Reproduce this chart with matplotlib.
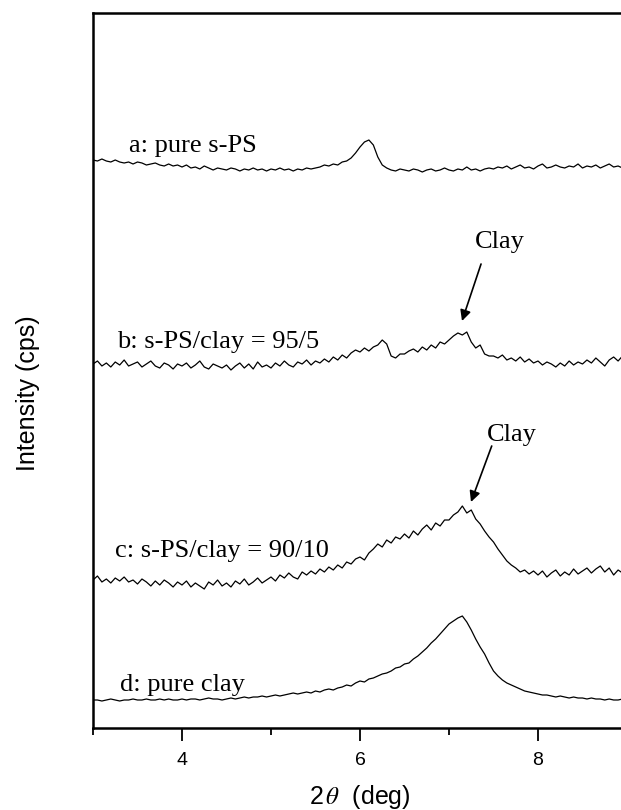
import numpy as np
import matplotlib
matplotlib.use("Agg")
import matplotlib.pyplot as plt
from matplotlib.ticker import MultipleLocator

plt.rcParams['font.family'] = ['Liberation Sans', 'DejaVu Sans']
plt.rcParams['mathtext.fontset'] = 'stix'

# 2-theta grid (deg), step 0.05
two_theta = np.round(np.arange(3.0, 9.0001, 0.05), 2)

# stacked intensities (cps, offset for display)
pure_sps = [
    568, 567, 569, 567, 566, 568, 566, 565, 566, 564,
    566, 565, 563, 564, 565, 563, 562, 564, 562, 563,
    561, 563, 560, 561, 559, 562, 560, 558, 560, 559,
    558, 560, 559, 557, 559, 558, 560, 558, 559, 557,
    559, 558, 560, 558, 559, 557, 559, 558, 560, 559,
    560, 561, 563, 562, 564, 563, 566, 567, 570, 575,
    581, 586, 588, 583, 571, 563, 560, 558, 557, 559,
    558, 557, 559, 558, 556, 558, 559, 557, 558, 560,
    558, 557, 559, 558, 561, 558, 559, 557, 559, 560,
    559, 561, 560, 562, 559, 561, 563, 560, 561, 559,
    562, 564, 560, 561, 563, 561, 560, 562, 561, 564,
    560, 562, 561, 563, 560, 562, 564, 561, 562, 560,
    561]

sps_clay_95_5 = [
    364, 367, 362, 365, 361, 366, 363, 368, 362, 364,
    366, 361, 364, 367, 362, 360, 365, 363, 359, 364,
    362, 365, 360, 363, 367, 361, 359, 364, 362, 360,
    363, 358, 362, 365, 360, 364, 359, 366, 361, 363,
    360, 365, 362, 367, 363, 361, 366, 364, 368, 363,
    367, 365, 369, 366, 371, 368, 373, 370, 375, 378,
    376, 380, 377, 381, 383, 388, 384, 372, 370, 374,
    374, 377, 379, 376, 381, 378, 383, 380, 386, 384,
    388, 392, 395, 393, 396, 386, 380, 383, 374, 372,
    372, 370, 373, 368, 370, 367, 371, 366, 369, 365,
    367, 363, 366, 364, 361, 365, 362, 367, 363, 366,
    364, 368, 365, 370, 366, 362, 368, 371, 367, 372,
    369]

sps_clay_90_10 = [
    148, 152, 146, 149, 145, 150, 147, 151, 146, 148,
    144, 149, 146, 142, 147, 143, 148, 145, 141, 146,
    143, 147, 141, 145, 142, 139, 146, 143, 148, 142,
    145, 141, 147, 144, 149, 143, 146, 150, 145, 148,
    151, 147, 153, 150, 155, 151, 149, 156, 153, 157,
    154, 159, 156, 161, 158, 163, 160, 166, 164, 169,
    171, 168, 175, 179, 184, 181, 188, 185, 191, 189,
    194, 190, 197, 193, 199, 203, 198, 205, 202, 208,
    208, 213, 216, 222, 215, 218, 209, 204, 197, 191,
    186, 179, 173, 167, 163, 160, 156, 158, 154, 157,
    153, 157, 151, 155, 158, 152, 156, 153, 159, 154,
    157, 160, 155, 159, 162, 156, 160, 153, 158, 155,
    159]

pure_clay = [
    28, 28, 27, 28, 29, 28, 27, 28, 28, 29,
    28, 28, 29, 28, 28, 29, 28, 29, 28, 28,
    29, 28, 29, 29, 28, 29, 30, 29, 29, 28,
    29, 30, 29, 30, 31, 30, 31, 31, 32, 31,
    32, 33, 32, 33, 34, 35, 34, 35, 36, 35,
    37, 36, 38, 39, 38, 40, 41, 43, 42, 45,
    47, 46, 49, 50, 52, 54, 55, 57, 60, 61,
    64, 65, 69, 72, 76, 80, 85, 89, 94, 99,
    104, 107, 110, 112, 106, 98, 89, 81, 74, 65,
    57, 52, 48, 45, 43, 41, 39, 37, 36, 35,
    34, 33, 33, 32, 31, 32, 31, 30, 31, 30,
    30, 29, 30, 29, 29, 28, 29, 28, 28, 29,
    28]

curves = [pure_sps, sps_clay_95_5, sps_clay_90_10, pure_clay]
labels = ["a: pure s-PS", "b: s-PS/clay = 95/5", "c: s-PS/clay = 90/10", "d: pure clay"]
label_pos = [(3.40, 576), (3.27, 380), (3.25, 171), (3.30, 37)]

# clay peak markers: (text x, text y, tail x, tail y, tip x, tip y)
clay_marks = [
    (7.57, 480, 7.36, 464, 7.146, 407),
    (7.71, 287, 7.48, 282, 7.247, 226),
]

fig = plt.figure(figsize=(6.21, 8.10), dpi=100)
ax = fig.add_axes([93/621, 1 - 728/810, 534/621, 715/810])

for y in curves:
    ax.plot(two_theta, y, color='black', lw=0.9)

serif = ['Liberation Serif', 'DejaVu Serif']
for txt, (x, y) in zip(labels, label_pos):
    ax.text(x, y, txt, fontsize=19, family=serif, va='baseline', ha='left')

for tx, ty, x0, y0, x1, y1 in clay_marks:
    ax.text(tx, ty, "Clay", fontsize=19, family=serif, va='baseline', ha='center')
    ax.annotate("", xy=(x1, y1), xytext=(x0, y0),
                arrowprops=dict(arrowstyle='-|>', color='black', lw=1.2,
                                mutation_scale=16, shrinkA=0, shrinkB=0))

ax.set_xlim(3, 9)
ax.set_ylim(0, 715)
ax.xaxis.set_major_locator(MultipleLocator(2))
ax.xaxis.set_minor_locator(MultipleLocator(1))
ax.tick_params(axis='x', which='major', direction='out', length=9, width=1.3,
               labelsize=14, pad=8)
ax.tick_params(axis='x', which='minor', direction='out', length=5, width=1.3)
ax.tick_params(axis='y', left=False, labelleft=False)
for s in ax.spines.values():
    s.set_linewidth(1.8)

fig.text(360/621, 1 - 797/810, r"2$\,\mathit{\theta}$  (deg)", fontsize=18,
         ha='center', va='center')
fig.text(28/621, 1 - 393/810, "Intensity (cps)", rotation=90, fontsize=18,
         ha='center', va='center')

fig.savefig("out.png", dpi=100)
